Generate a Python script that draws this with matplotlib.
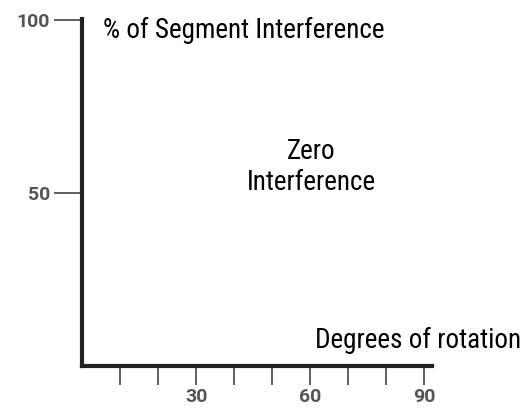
import matplotlib
matplotlib.use("Agg")
import matplotlib.pyplot as plt

# axis values
y_ticks = [50, 100]
y_labels = ["50", "100"]
x_ticks = [10, 20, 30, 40, 50, 60, 70, 80, 90]
x_labels = ["", "", "30", "", "", "60", "", "", "90"]

plt.rcParams['font.family'] = ['Roboto', 'DejaVu Sans']
cond = ['Roboto Condensed', 'DejaVu Sans']

fig = plt.figure(figsize=(5.26, 4.08), dpi=100)
W, H = 526, 408
ax = fig.add_axes([82 / W, (H - 366) / H, (432 - 82) / W, (366 - 19) / H])
ax.set_xlim(0, 92)
ax.set_ylim(0, 100.3)

for s in ['top', 'right']:
    ax.spines[s].set_visible(False)
for s in ['left', 'bottom']:
    ax.spines[s].set_linewidth(3)
    ax.spines[s].set_color('#222222')
    ax.spines[s].set_capstyle('projecting')

ax.set_yticks(y_ticks)
ax.set_yticklabels(y_labels)
ax.set_xticks(x_ticks)
ax.set_xticklabels(x_labels)
ax.tick_params(axis='y', length=20, width=1.2, color='#444444', pad=3,
               labelsize=14, labelcolor='#555555')
ax.tick_params(axis='x', length=14, width=1.2, color='#444444', pad=2,
               labelsize=14, labelcolor='#555555')
for lab in ax.get_xticklabels() + ax.get_yticklabels():
    lab.set_fontweight('bold')

ax.text(5.5, 97, "% of Segment Interference", fontsize=19.5, va='center',
        ha='left', color='black', clip_on=False, family=cond)
ax.text(60.3, 57.5, "Zero\nInterference", fontsize=19.5, va='center',
        ha='center', multialignment='center', color='black', linespacing=1.15,
        family=cond)
ax.text(61.2, 7.5, "Degrees of rotation", fontsize=19.5, va='center',
        ha='left', color='black', clip_on=False, family=cond)

fig.savefig('out.png', dpi=100)
